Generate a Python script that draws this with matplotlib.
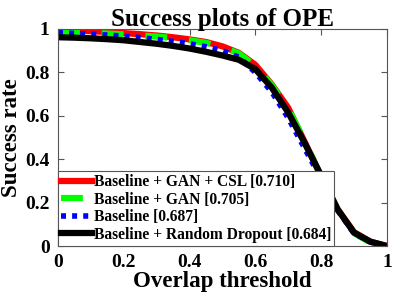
import matplotlib
matplotlib.use('Agg')
import matplotlib.pyplot as plt

thresholds = [0.0, 0.05, 0.1, 0.15, 0.2, 0.25, 0.3, 0.35, 0.4, 0.45, 0.5,
              0.55, 0.6, 0.65, 0.7, 0.75, 0.8, 0.85, 0.9, 0.95, 1.0]

csl = [0.995, 0.993, 0.990, 0.986, 0.981, 0.976, 0.970, 0.962, 0.952, 0.940, 0.920,
       0.890, 0.835, 0.745, 0.637, 0.480, 0.320, 0.170, 0.064, 0.020, 0.0]
gan = [0.988, 0.986, 0.983, 0.979, 0.975, 0.970, 0.965, 0.958, 0.948, 0.936, 0.917,
       0.887, 0.830, 0.742, 0.632, 0.485, 0.320, 0.168, 0.060, 0.015, 0.0]
base = [0.983, 0.980, 0.976, 0.972, 0.967, 0.960, 0.952, 0.943, 0.932, 0.918, 0.900,
        0.870, 0.800, 0.710, 0.590, 0.450, 0.310, 0.165, 0.060, 0.018, 0.0]
dropout = [0.962, 0.960, 0.957, 0.953, 0.948, 0.940, 0.932, 0.922, 0.910, 0.895, 0.878,
           0.858, 0.815, 0.730, 0.615, 0.475, 0.325, 0.170, 0.062, 0.020, 0.0]

labels = ['Baseline + GAN + CSL [0.710]', 'Baseline + GAN [0.705]',
          'Baseline [0.687]', 'Baseline + Random Dropout [0.684]']
ticks = [0, 0.2, 0.4, 0.6, 0.8, 1]
tick_labels = ['0', '0.2', '0.4', '0.6', '0.8', '1']

plt.rcParams['font.family'] = ['Liberation Serif', 'DejaVu Serif']
plt.rcParams['font.weight'] = 'bold'

fig = plt.figure(figsize=(3.98, 3.01), dpi=100)
ax = fig.add_axes([0.1457, 0.1827, 0.8263, 0.721])

ax.plot(thresholds, csl, color='#ff0000', lw=4.5, label=labels[0])
ax.plot(thresholds, gan, color='#00ff00', lw=4.5, ls=(0, (3.5, 3.5)), label=labels[1])
ax.plot(thresholds, base, color='#0000ff', lw=4.0, ls=(0, (0.9, 1.1)), label=labels[2])
ax.plot(thresholds, dropout, color='black', lw=4.5, label=labels[3])

ax.set_xlim(0, 1)
ax.set_ylim(0, 1)
ax.set_xticks(ticks)
ax.set_xticklabels(tick_labels)
ax.set_yticks(ticks)
ax.set_yticklabels(tick_labels)
ax.tick_params(direction='in', top=True, right=True, labelsize=14, length=4,
               color='#555555', pad=6)
for s in ax.spines.values():
    s.set_color('#555555')
    s.set_linewidth(0.8)

ax.set_title('Success plots of OPE', fontsize=18, fontweight='bold', pad=2)
ax.set_xlabel('Overlap threshold', fontsize=16.5, fontweight='bold', labelpad=0)
ax.set_ylabel('Success rate', fontsize=16.5, fontweight='bold', labelpad=2)

leg = ax.legend(loc='lower left', borderaxespad=0, fontsize=11.2, handlelength=2.0,
                handletextpad=0.1, labelspacing=0.1, borderpad=0.2,
                fancybox=False, framealpha=1, edgecolor='#555555')
leg.get_frame().set_linewidth(0.8)

fig.savefig('out.png', dpi=100)
